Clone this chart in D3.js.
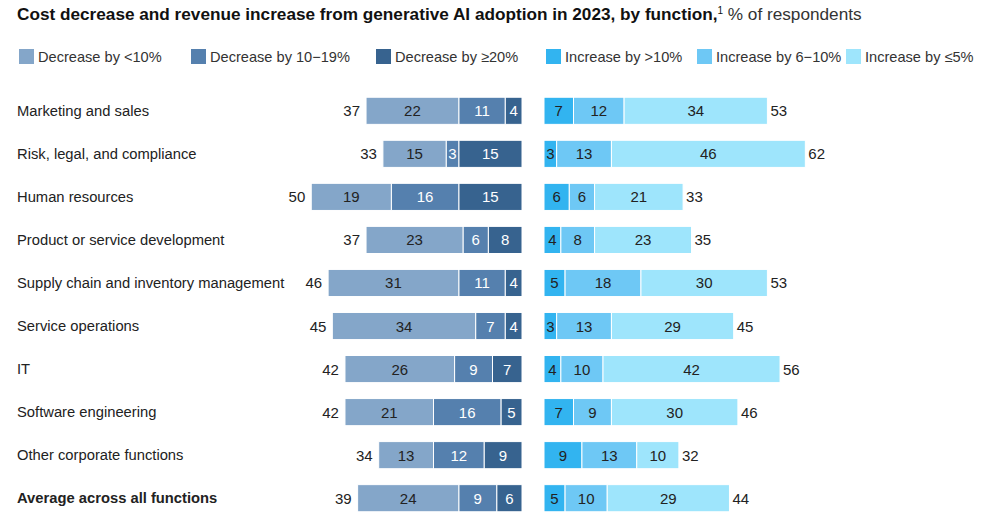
<!DOCTYPE html>
<html><head><meta charset="utf-8">
<script src="https://cdn.jsdelivr.net/npm/d3@7"></script>
<style>body{margin:0;background:#fff;}svg{display:block;font-family:"Liberation Sans",Arial,sans-serif;}</style>
</head><body><svg id="c" width="991" height="526"></svg>
<script>
const categories=["Marketing and sales","Risk, legal, and compliance","Human resources","Product or service development","Supply chain and inventory management","Service operations","IT","Software engineering","Other corporate functions","Average across all functions"];
const decLt10=[22,15,19,23,31,34,26,21,13,24];
const dec10to19=[11,3,16,6,11,7,9,16,12,9];
const decGe20=[4,15,15,8,4,4,7,5,9,6];
const incGt10=[7,3,6,4,5,3,4,7,9,5];
const inc6to10=[12,13,6,8,18,13,10,9,13,10];
const incLe5=[34,46,21,23,30,29,42,30,10,29];
const decTotal=[37,33,50,37,46,45,42,42,34,39];
const incTotal=[53,62,33,35,53,45,56,46,32,44];
const legendLabels=["Decrease by <10%","Decrease by 10\u221219%","Decrease by \u226520%","Increase by >10%","Increase by 6\u221210%","Increase by \u22645%"];
const colors=["#84a6c9","#5580ae","#37638f","#32b4f0","#6ec8f5","#9ee5fc"];
const textCols=["#222","#fff","#fff","#222","#222","#222"];

const svg=d3.select("#c");
// Title
const t=svg.append("text").attr("x",17).attr("y",20).attr("font-size",17.2).attr("fill","#111");
t.append("tspan").attr("font-weight","bold").text("Cost decrease and revenue increase from generative AI adoption in 2023, by function,");
t.append("tspan").attr("font-size",10).attr("dy",-6).text("1");
t.append("tspan").attr("dy",6).attr("fill","#333").text(" % of respondents");

// Legend
const legX=[19,191,376,546,697,846];
legendLabels.forEach((l,i)=>{
  svg.append("rect").attr("x",legX[i]).attr("y",49).attr("width",15).attr("height",15).attr("fill",colors[i]);
  svg.append("text").attr("x",legX[i]+19).attr("y",62).attr("font-size",14.6).attr("fill","#333").text(l);
});

const y=d3.scaleBand().domain(categories).range([89.5,519.5]).paddingInner(0.37).paddingOuter(0.18);
const xL=d3.scaleLinear().domain([0,60]).range([522,522-60*4.215]);
const xR=d3.scaleLinear().domain([0,70]).range([544,544+70*4.215]);

categories.forEach((c,i)=>{
  const yc=y(c)+y.bandwidth()/2;
  svg.append("text").attr("x",17).attr("y",yc+5).attr("font-size",14.75).attr("fill","#222")
    .attr("font-weight",i===categories.length-1?"bold":"normal").text(c);
  const dv=[decGe20[i],dec10to19[i],decLt10[i]];
  const dc=[2,1,0];
  let acc=0;
  dv.forEach((v,k)=>{
    const x0=xL(acc+v), x1=xL(acc);
    svg.append("rect").attr("x",x0).attr("y",y(c)).attr("width",x1-x0).attr("height",y.bandwidth())
      .attr("fill",colors[dc[k]]).attr("stroke","#fff").attr("stroke-width",1);
    svg.append("text").attr("x",(x0+x1)/2).attr("y",yc+5.5).attr("text-anchor","middle").attr("font-size",15)
      .attr("fill",textCols[dc[k]]).text(v);
    acc+=v;
  });
  svg.append("text").attr("x",xL(acc)-6).attr("y",yc+5.5).attr("text-anchor","end").attr("font-size",15).attr("fill","#222").text(decTotal[i]);
  const iv=[incGt10[i],inc6to10[i],incLe5[i]];
  acc=0;
  iv.forEach((v,k)=>{
    const x0=xR(acc), x1=xR(acc+v);
    svg.append("rect").attr("x",x0).attr("y",y(c)).attr("width",x1-x0).attr("height",y.bandwidth())
      .attr("fill",colors[3+k]).attr("stroke","#fff").attr("stroke-width",1);
    svg.append("text").attr("x",(x0+x1)/2).attr("y",yc+5.5).attr("text-anchor","middle").attr("font-size",15)
      .attr("fill",textCols[3+k]).text(v);
    acc+=v;
  });
  svg.append("text").attr("x",xR(acc)+3).attr("y",yc+5.5).attr("font-size",15).attr("fill","#222").text(incTotal[i]);
});
</script></body></html>
